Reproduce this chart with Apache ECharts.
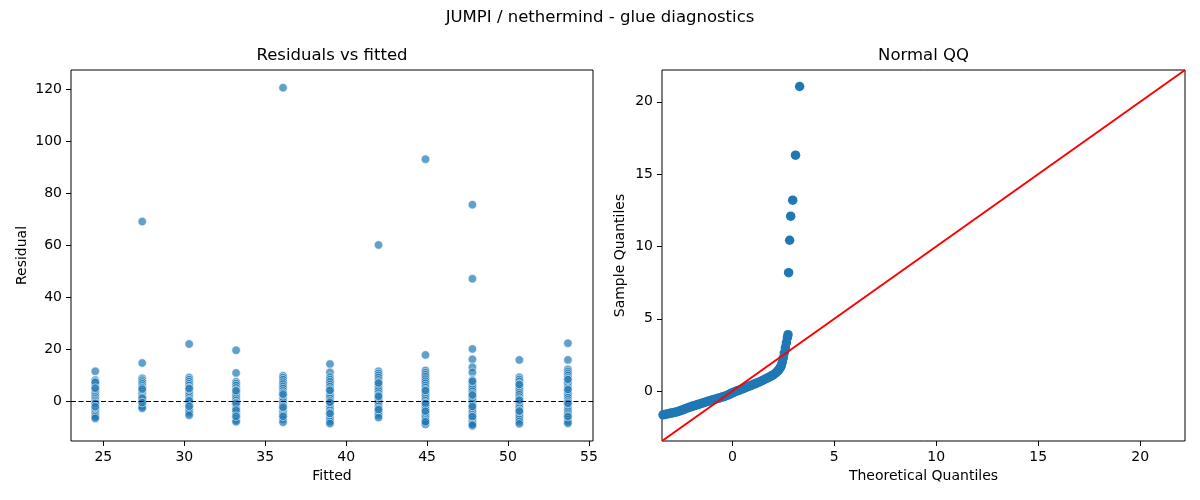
<!DOCTYPE html>
<html>
<head>
<meta charset="utf-8">
<script src="https://cdn.jsdelivr.net/npm/echarts@6/dist/echarts.min.js"></script>
<style>
  html, body { margin: 0; padding: 0; background: #fff; }
  #chart { width: 1200px; height: 500px; }
</style>
</head>
<body>
<div id="chart"></div>
<script>
// fitted levels (one column of points per level)
const fittedLevels = [24.5, 27.4, 30.3, 33.2, 36.1, 39.0, 42.0, 44.9, 47.8, 50.7, 53.7];

// residuals read per column
const residuals = [
	[11.4, 8.1, 7.6, 6.9, 6.0, 5.2, 4.4, 3.6, 2.9, 2.1, 1.5, 0.8, 0.2, -0.4, -1.1, -1.8, -2.5, -3.1, -3.8, -4.4, -5.0, -5.6, -6.1, -6.7, 7.2, 4.9, -0.9, -2.2],
	[69.0, 14.6, 8.7, 8.0, 7.3, 6.6, 5.8, 5.1, 4.3, 3.7, 2.9, 2.2, 1.5, 0.9, 0.3, -0.4, -1.0, -1.6, -2.2, -2.8, 4.6, 1.1, -0.6],
	[21.9, 9.0, 8.2, 7.4, 6.6, 5.9, 5.1, 4.4, 3.6, 2.8, 2.0, 1.2, 0.5, -0.3, -1.0, -1.8, -2.5, -3.2, -3.9, -4.6, -5.5, 4.8, 0.1, -2.0],
	[19.5, 10.8, 7.4, 6.7, 5.9, 5.0, 4.2, 3.4, 2.6, 1.8, 1.0, 0.2, -0.6, -1.4, -2.2, -3.0, -3.8, -4.6, -5.4, -6.1, -6.8, -7.4, -8.0, 3.9, -0.9, -3.5, -5.9],
	[120.5, 9.7, 9.0, 8.2, 7.3, 6.5, 5.6, 4.8, 3.9, 3.1, 2.2, 1.4, 0.5, -0.3, -1.2, -2.0, -2.9, -3.7, -4.6, -5.4, -6.3, -7.1, -8.2, 2.6, -2.4, -5.9],
	[14.2, 11.0, 9.2, 8.3, 7.4, 6.4, 5.5, 4.6, 3.7, 2.8, 1.9, 1.0, 0.1, -0.8, -1.7, -2.6, -3.5, -4.4, -5.3, -6.2, -7.1, -7.9, -8.7, 4.1, -0.5, -4.8],
	[60.0, 11.4, 10.6, 9.8, 9.0, 8.1, 7.3, 6.4, 5.6, 4.7, 3.9, 3.0, 2.2, 1.3, 0.5, -0.4, -1.2, -2.1, -2.9, -3.8, -4.6, -5.5, -6.4, 6.9, 1.8, -3.3],
	[93.0, 17.7, 11.7, 10.9, 10.1, 9.3, 8.4, 7.6, 6.8, 5.9, 5.1, 4.3, 3.4, 2.6, 1.8, 0.9, 0.1, -0.7, -1.6, -2.4, -3.2, -4.1, -4.9, -5.7, -6.6, -7.4, -8.2, -9.0, 4.0, -1.0, -3.9, -8.0],
	[75.5, 47.0, 20.0, 16.0, 13.0, 11.0, 8.1, 7.3, 6.4, 5.5, 4.6, 3.7, 2.8, 1.9, 1.0, 0.1, -0.8, -1.7, -2.6, -3.5, -4.4, -5.3, -6.2, -7.1, -7.9, -8.8, -9.6, 7.6, 2.3, -2.1, -6.0, -9.2],
	[15.8, 9.1, 8.3, 7.5, 6.6, 5.8, 4.9, 4.1, 3.2, 2.4, 1.5, 0.7, -0.2, -1.0, -1.9, -2.7, -3.6, -4.4, -5.3, -6.1, -7.0, -7.9, -8.8, 6.3, 0.3, -3.9],
	[22.2, 15.8, 12.2, 11.4, 10.6, 9.8, 8.9, 8.1, 7.2, 6.4, 5.5, 4.7, 3.8, 3.0, 2.1, 1.3, 0.4, -0.4, -1.3, -2.1, -3.0, -3.8, -4.7, -5.5, -6.4, -7.2, -8.0, -8.6, 8.3, 4.4, -0.9, -6.0]
];

// normal QQ: theoretical vs sample quantiles
const qqTheo = [-3.4, -3.3, -3.2, -3.1, -3.0, -2.9, -2.8, -2.7, -2.6, -2.5, -2.4, -2.3, -2.2, -2.1, -2.0, -1.9, -1.8, -1.7, -1.6, -1.5, -1.4, -1.3, -1.2, -1.1, -1.0, -0.9, -0.8, -0.7, -0.6, -0.5, -0.4, -0.3, -0.2, -0.1, 0.0, 0.1, 0.2, 0.3, 0.4, 0.5, 0.6, 0.7, 0.8, 0.9, 1.0, 1.1, 1.2, 1.3, 1.4, 1.5, 1.6, 1.7, 1.8, 1.9, 2.0, 2.1, 2.2, 2.25, 2.3, 2.35, 2.4, 2.45, 2.5, 2.55, 2.6, 2.65, 2.7, 2.73, 2.76, 2.81, 2.86, 2.96, 3.10, 3.30];
const qqSample = [-1.64, -1.61, -1.58, -1.55, -1.52, -1.49, -1.46, -1.42, -1.38, -1.33, -1.28, -1.22, -1.16, -1.11, -1.07, -1.02, -0.98, -0.93, -0.89, -0.84, -0.80, -0.75, -0.71, -0.66, -0.62, -0.58, -0.54, -0.50, -0.46, -0.41, -0.37, -0.32, -0.26, -0.19, -0.12, -0.06, 0.0, 0.05, 0.10, 0.16, 0.22, 0.27, 0.33, 0.38, 0.44, 0.50, 0.56, 0.62, 0.68, 0.75, 0.82, 0.89, 0.96, 1.04, 1.12, 1.22, 1.35, 1.42, 1.52, 1.62, 1.75, 2.0, 2.3, 2.65, 3.0, 3.35, 3.7, 3.9, 8.19, 10.43, 12.09, 13.2, 16.31, 21.06];

// 45 degree reference line endpoints
const qqLine = [-3.45, 22.2];

const residTicks = [0, 20, 40, 60, 80, 100, 120];
const fittedTicks = [25, 30, 35, 40, 45, 50, 55];
const qqTicks = [0, 5, 10, 15, 20];

const font = 'DejaVu Sans';

function initChart(){
	let myChart = echarts.init(document.getElementById('chart'));

	let residData = [];
	fittedLevels.forEach(function(f, i){
		residuals[i].forEach(function(r){ residData.push([f, r]); });
	});
	let qqData = qqTheo.map(function(t, i){ return [t, qqSample[i]]; });

	function axisCommon(ticks, min, max){
		return {
			type: 'value',
			min: min,
			max: max,
			axisLine: { show: false, onZero: false },
			axisTick: {
				show: true,
				length: 5,
				customValues: ticks,
				lineStyle: { color: '#000', width: 1 }
			},
			axisLabel: {
				customValues: ticks,
				margin: 9,
				color: '#000',
				fontSize: 14,
				fontFamily: font
			},
			splitLine: { show: false },
			nameTextStyle: { color: '#000', fontSize: 14, fontFamily: font }
		};
	}

	let xA0 = axisCommon(fittedTicks, 23.0, 55.25);
	xA0.gridIndex = 0; xA0.name = 'Fitted'; xA0.nameLocation = 'middle'; xA0.nameGap = 28;
	let yA0 = axisCommon(residTicks, -15.4, 127.3);
	yA0.gridIndex = 0; yA0.name = 'Residual'; yA0.nameLocation = 'middle'; yA0.nameGap = 42;
	let xA1 = axisCommon(qqTicks, qqLine[0], qqLine[1]);
	xA1.gridIndex = 1; xA1.name = 'Theoretical Quantiles'; xA1.nameLocation = 'middle'; xA1.nameGap = 28;
	let yA1 = axisCommon(qqTicks, qqLine[0], qqLine[1]);
	yA1.gridIndex = 1; yA1.name = 'Sample Quantiles'; yA1.nameLocation = 'middle'; yA1.nameGap = 35;

	let option = {
		animation: false,
		backgroundColor: '#fff',
		textStyle: { fontFamily: font },
		graphic: [
			{ type: 'text', x: 600, y: 18, style: { text: 'JUMPI / nethermind - glue diagnostics', font: '16.5px "DejaVu Sans"', fill: '#000', textAlign: 'center', textVerticalAlign: 'middle' } },
			{ type: 'text', x: 332, y: 56, style: { text: 'Residuals vs fitted', font: '16.5px "DejaVu Sans"', fill: '#000', textAlign: 'center', textVerticalAlign: 'middle' } },
			{ type: 'text', x: 923.5, y: 56, style: { text: 'Normal QQ', font: '16.5px "DejaVu Sans"', fill: '#000', textAlign: 'center', textVerticalAlign: 'middle' } }
		],
		grid: [
			{ left: 71, top: 70, width: 522, height: 371, show: true, borderColor: '#000', borderWidth: 1, backgroundColor: 'transparent' },
			{ left: 662, top: 70, width: 523, height: 371, show: true, borderColor: '#000', borderWidth: 1, backgroundColor: 'transparent' }
		],
		xAxis: [xA0, xA1],
		yAxis: [yA0, yA1],
		series: [
			{
				name: 'residuals',
				type: 'scatter',
				xAxisIndex: 0,
				yAxisIndex: 0,
				data: residData,
				symbol: 'circle',
				symbolSize: 8.5,
				itemStyle: {
					color: '#1f77b4',
					opacity: 0.7,
					borderColor: '#fff',
					borderWidth: 0.8
				},
				markLine: {
					silent: true,
					symbol: 'none',
					label: { show: false },
					lineStyle: { color: '#000', type: [5, 2.5], width: 1.2 },
					data: [{ yAxis: 0 }],
					z: 5
				}
			},
			{
				name: 'qq',
				type: 'scatter',
				xAxisIndex: 1,
				yAxisIndex: 1,
				data: qqData,
				symbol: 'circle',
				symbolSize: 9.5,
				itemStyle: { color: '#1f77b4', opacity: 1 }
			},
			{
				name: 'line45',
				type: 'line',
				xAxisIndex: 1,
				yAxisIndex: 1,
				data: [[qqLine[0], qqLine[0]], [qqLine[1], qqLine[1]]],
				showSymbol: false,
				symbol: 'none',
				z: 10,
				lineStyle: { color: '#ff0000', width: 2 }
			}
		]
	};

	myChart.setOption(option);
	return myChart;
}

initChart();
</script>
</body>
</html>
